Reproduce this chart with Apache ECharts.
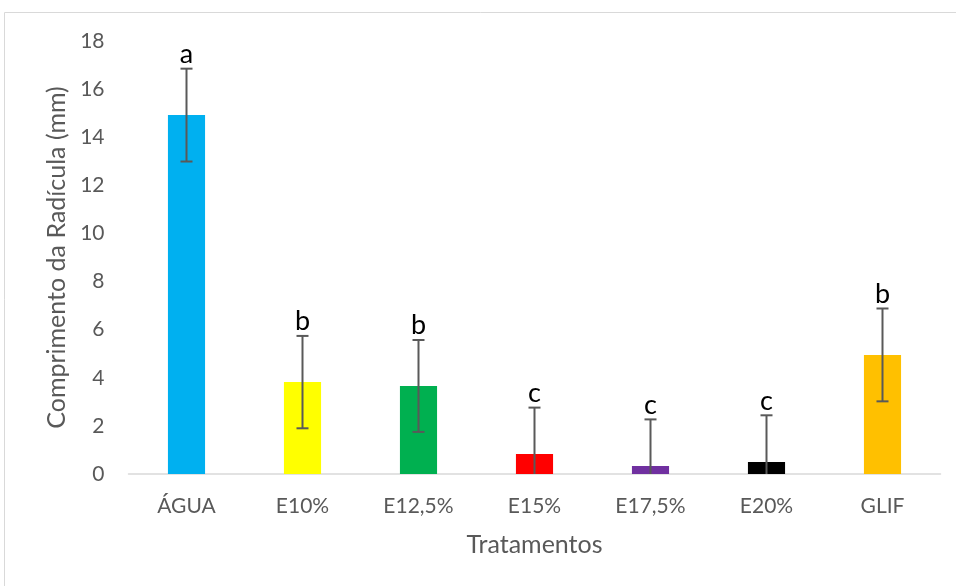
<!DOCTYPE html>
<html>
<head>
<meta charset="utf-8">
<script src="https://cdn.jsdelivr.net/npm/echarts@6/dist/echarts.min.js"></script>
<style>
  html, body { margin: 0; padding: 0; background: #fff; }
  #chart { width: 956px; height: 586px; }
</style>
</head>
<body>
<div id="chart"></div>
<script>
// Treatments and mean radicle length (mm) with standard deviation
var categories = ['ÁGUA', 'E10%', 'E12,5%', 'E15%', 'E17,5%', 'E20%', 'GLIF'];
var means = [14.92, 3.82, 3.66, 0.83, 0.33, 0.50, 4.95];
var deviations = [1.93, 1.92, 1.91, 1.93, 1.94, 1.94, 1.93];
var groupLetters = ['a', 'b', 'b', 'c', 'c', 'c', 'b'];
var barColors = ['#00b0f0', '#ffff00', '#00b050', '#ff0000', '#7030a0', '#000000', '#ffc000'];
var yTicks = { min: 0, max: 18, interval: 2 };

var chart = echarts.init(document.getElementById('chart'));

var errorData = means.map(function (m, i) {
  return [i, Math.max(0, m - deviations[i]), m + deviations[i], m - deviations[i]];
});

var font = 'Lato, "Open Sans", sans-serif';

chart.setOption({
  animation: false,
  graphic: [{
    type: 'rect',
    shape: { x: 4.5, y: 12.5, width: 960, height: 590 },
    style: { fill: 'none', stroke: '#d9d9d9', lineWidth: 1 },
    silent: true
  }],
  grid: { left: 128.5, right: 15.5, top: 41, bottom: 112 },
  xAxis: {
    type: 'category',
    data: categories,
    name: 'Tratamentos',
    nameLocation: 'middle',
    nameGap: 58,
    nameTextStyle: { color: '#595959', fontSize: 25, fontFamily: font },
    axisLine: { lineStyle: { color: '#d9d9d9', width: 1.5 } },
    axisTick: { show: false },
    axisLabel: { color: '#595959', fontSize: 21, fontFamily: font, margin: 22 }
  },
  yAxis: {
    type: 'value',
    min: yTicks.min,
    max: yTicks.max,
    interval: yTicks.interval,
    name: 'Comprimento da Radícula (mm)',
    nameLocation: 'middle',
    nameGap: 58,
    nameTextStyle: { color: '#595959', fontSize: 25, fontFamily: font },
    axisLine: { show: false },
    axisTick: { show: false },
    splitLine: { show: false },
    axisLabel: { color: '#595959', fontSize: 21, fontFamily: font, margin: 24 }
  },
  series: [{
    type: 'bar',
    barWidth: '32%',
    data: means.map(function (v, i) {
      return { value: v, itemStyle: { color: barColors[i] } };
    })
  }, {
    type: 'custom',
    data: errorData,
    z: 10,
    renderItem: function (params, api) {
      var i = api.value(0);
      var lowVal = api.value(1);
      var highVal = api.value(2);
      var rawLow = api.value(3);
      var top = api.coord([i, highVal]);
      var bot = api.coord([i, lowVal]);
      var half = 6;
      var lineStyle = { stroke: '#595959', lineWidth: 2 };
      var children = [
        { type: 'line', shape: { x1: top[0], y1: top[1], x2: bot[0], y2: bot[1] }, style: lineStyle },
        { type: 'line', shape: { x1: top[0] - half, y1: top[1], x2: top[0] + half, y2: top[1] }, style: lineStyle }
      ];
      if (rawLow > 0) {
        children.push({ type: 'line', shape: { x1: bot[0] - half, y1: bot[1], x2: bot[0] + half, y2: bot[1] }, style: lineStyle });
      }
      children.push({
        type: 'text',
        x: top[0],
        y: top[1] - 1,
        style: {
          text: groupLetters[i],
          fill: '#000',
          font: '27px ' + font,
          align: 'center',
          verticalAlign: 'bottom'
        }
      });
      return { type: 'group', children: children };
    }
  }]
});
</script>
</body>
</html>
